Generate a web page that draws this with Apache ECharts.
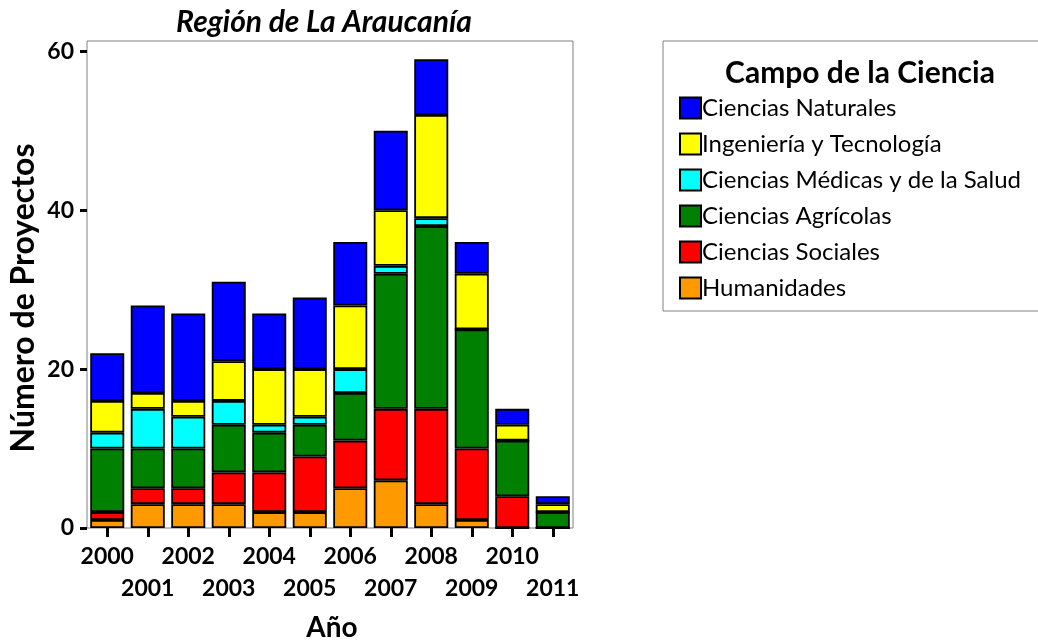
<!DOCTYPE html>
<html>
<head>
<meta charset="utf-8">
<script src="https://cdn.jsdelivr.net/npm/echarts@6/dist/echarts.min.js"></script>
<style>
  html, body { margin: 0; padding: 0; background: #fff; }
  #chart { width: 1038px; height: 644px; }
</style>
</head>
<body>
<div id="chart"></div>
<script>
const years = ["2000", "2001", "2002", "2003", "2004", "2005", "2006", "2007", "2008", "2009", "2010", "2011"];

// stacked from bottom to top
const humanidades = [1, 3, 3, 3, 2, 2, 5, 6, 3, 1, 0, 0];
const sociales = [1, 2, 2, 4, 5, 7, 6, 9, 12, 9, 4, 0];
const agricolas = [8, 5, 5, 6, 5, 4, 6, 17, 23, 15, 7, 2];
const medicas = [2, 5, 4, 3, 1, 1, 3, 1, 1, 0, 0, 0];
const ingenieria = [4, 2, 2, 5, 7, 6, 8, 7, 13, 7, 2, 1];
const naturales = [6, 11, 11, 10, 7, 9, 8, 10, 7, 4, 2, 1];

const yTicks = [0, 20, 40, 60];

const FONT = "Lato";

const seriesDefs = [
  { name: "Humanidades", data: humanidades, color: "#ff9900" },
  { name: "Ciencias Sociales", data: sociales, color: "#ff0000" },
  { name: "Ciencias Agrícolas", data: agricolas, color: "#008000" },
  { name: "Ciencias Médicas y de la Salud", data: medicas, color: "#00ffff" },
  { name: "Ingeniería y Tecnología", data: ingenieria, color: "#ffff00" },
  { name: "Ciencias Naturales", data: naturales, color: "#0000ff" }
];

const chart = echarts.init(document.getElementById("chart"));

chart.setOption({
  animation: false,
  textStyle: { fontFamily: FONT },
  grid: {
    left: 87,
    right: 465,
    top: 41,
    bottom: 116,
    show: true,
    borderColor: "#808080",
    borderWidth: 1
  },
  legend: {
    data: seriesDefs.map((s) => s.name).reverse(),
    orient: "vertical",
    left: 674,
    top: 91,
    itemWidth: 21,
    itemHeight: 21,
    itemGap: 12,
    icon: "rect",
    selectedMode: false,
    textStyle: { fontFamily: FONT, fontSize: 24, color: "#000", padding: [0, 0, 0, -4] }
  },
  graphic: [
    {
      type: "rect",
      shape: { x: 663, y: 41, width: 400, height: 270 },
      style: { fill: "none", stroke: "#808080", lineWidth: 1 }
    },
    {
      type: "text",
      x: 860,
      y: 73,
      style: {
        text: "Campo de la Ciencia",
        fontFamily: FONT,
        fontWeight: "bold",
        fontSize: 30,
        fill: "#000",
        align: "center",
        verticalAlign: "middle"
      }
    },
    {
      type: "text",
      x: 324,
      y: 22,
      style: {
        text: "Región de La Araucanía",
        fontFamily: FONT,
        fontWeight: "bold",
        fontStyle: "italic",
        fontSize: 30,
        fill: "#000",
        align: "center",
        verticalAlign: "middle"
      }
    },
    {
      type: "text",
      x: 24,
      y: 298,
      rotation: Math.PI / 2,
      style: {
        text: "Número de Proyectos",
        fontFamily: FONT,
        fontWeight: "bold",
        fontSize: 32,
        fill: "#000",
        align: "center",
        verticalAlign: "middle"
      }
    },
    {
      type: "text",
      x: 332,
      y: 628,
      style: {
        text: "Año",
        fontFamily: FONT,
        fontWeight: "bold",
        fontSize: 28,
        fill: "#000",
        align: "center",
        verticalAlign: "middle"
      }
    }
  ],
  xAxis: {
    type: "category",
    data: years,
    axisLine: { show: false },
    axisTick: {
      show: true,
      alignWithLabel: true,
      length: 9,
      lineStyle: { color: "#000", width: 3 }
    },
    axisLabel: {
      interval: 0,
      margin: 13,
      fontFamily: FONT,
      fontWeight: "bold",
      fontSize: 23,
      color: "#000",
      lineHeight: 32,
      formatter: (value, index) => (index % 2 === 1 ? "\n" + value : value)
    }
  },
  yAxis: {
    type: "value",
    min: 0,
    max: 61.3,
    axisLine: { show: false },
    splitLine: { show: false },
    axisTick: {
      show: true,
      length: 7,
      customValues: yTicks,
      lineStyle: { color: "#000", width: 3 }
    },
    axisLabel: {
      customValues: yTicks,
      margin: 13,
      fontFamily: FONT,
      fontWeight: "bold",
      fontSize: 23,
      color: "#000"
    }
  },
  series: seriesDefs.map((s) => ({
    name: s.name,
    type: "bar",
    stack: "total",
    barWidth: "84%",
    data: s.data,
    itemStyle: { color: s.color, borderColor: "#000", borderWidth: 1.8 }
  }))
});
</script>
</body>
</html>
